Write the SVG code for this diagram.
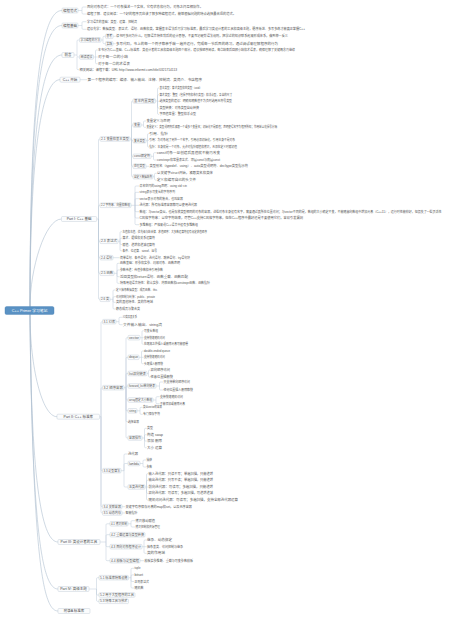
<svg xmlns="http://www.w3.org/2000/svg" width="454" height="619" viewBox="0 0 454 619">
<style>
text{font-family:"Liberation Sans","Noto Sans CJK SC",sans-serif;font-size:3px;fill:#555;dominant-baseline:central}
.l1 text{font-size:3.5px;text-anchor:middle;fill:#444}
.bx{fill:#fbfcfd;stroke:#b8c5d2;stroke-width:.4}
.c{fill:none;stroke:#bccad8;stroke-width:.5}
.m{fill:none;stroke:#aebfd0;stroke-width:.6}
#root text{font-size:3.8px;fill:#fff;text-anchor:middle}
</style>
<rect width="454" height="619" fill="#fff"/>
<g id="connectors">
<path class="m" d="M30 306.7C30 60.5 45 10.5 62 10.5M30 306.7C30 75.5 45 25.5 62 25.5M30 306.7C30 105 45 55 62 55M30 306.7C30 129.7 45 79.7 60 79.7M30 306.7C30 269 45 219 61.5 219M30 314.2C30 366.7 42 416.7 57 416.7M30 314.2C31 492 43 542 58 542M30 314.2C32 539 43 589 58 589M30 314.2C33 561 43 611 58 611"/>
<path class="c" d="M78 10.5H82V8Q82 7 83 7H86.5M82 10.5V13Q82 14 83 14H86.5
M78 25.5H82V22.7Q82 21.7 83 21.7H86.5M82 25.5V28.3Q82 29.3 83 29.3H86.5
M74 55H77V41Q77 40 78 40H79.5M77 55V56Q77 57 78 57H79.5M77 57V68.7Q77 69.7 78 69.7H79.2
M101 40H103V37.3Q103 36.3 104 36.3H105.5M103 40V42.7Q103 43.7 104 43.7H105.5
M113 36.3H115.7M113 43.7H115.7
M93.5 57H97.7M95.5 57V51Q95.5 50 96.5 50H97.7M95.5 57V62.7Q95.5 63.7 96.5 63.7H97.7
M80 79.7H87.2
M96.7 219H98.5V140Q98.5 139 99.5 139H100M98.5 219V206.3Q98.5 205.3 99.5 205.3H100M98.5 219V240.3Q98.5 241.3 99.5 241.3H100M98.5 219V256.7Q98.5 257.7 99.5 257.7H100M98.5 219V272.3Q98.5 273.3 99.5 273.3H100M98.5 219V298.3Q98.5 299.3 99.5 299.3H100
M130 139H131.5V102Q131.5 101 132.5 101H133M131.5 139V126Q131.5 125 132.5 125H133M131.5 139V139.7Q131.5 140.7 132.5 140.7H133M131.5 139V155.3Q131.5 156.3 132.5 156.3H133M131.5 139V165.3Q131.5 166.3 132.5 166.3H133M131.5 139V175.7Q131.5 176.7 132.5 176.7H133
M155.5 101H157.5V89Q157.5 88 158.5 88H159.2M157.5 101V95.7Q157.5 94.7 158.5 94.7H159.2M157.5 101.3H159.2M157.5 101V107Q157.5 108 158.5 108H159.2M157.5 101V113.3Q157.5 114.3 158.5 114.3H159.2
M141 125H143.5V122Q143.5 121 144.5 121H146.2M143.5 125V126.3Q143.5 127.3 144.5 127.3H146.2
M146 140.7H147.5V134.7Q147.5 133.7 148.5 133.7H149M147.5 140.3H149M147.5 140.7V146Q147.5 147 148.5 147H149
M151 156.3H153.5V153.7Q153.5 152.7 154.5 152.7H156.7M153.5 156.3V159Q153.5 160 154.5 160H156.7
M146 166.3H149.2
M153 176.7H154.5V174.3Q154.5 173.3 155.5 173.3H156.7M154.5 176.7V179Q154.5 180 155.5 180H156.7
M131 205.3H139.2M135 205.3V187Q135 186 136 186H139.2M135 205.3V193.3Q135 192.3 136 192.3H139.2M135 205.3V199.7Q135 198.7 136 198.7H139.2M135 205.3V210.7Q135 211.7 136 211.7H139.2M135 205.3V217Q135 218 136 218H139.2M135 205.3V223.7Q135 224.7 136 224.7H139.2
M118 241.3H120V232.7Q120 231.7 121 231.7H122.2M120 241.3V239.2Q120 238.2 121 238.2H122.2M120 241.3V243.5Q120 244.5 121 244.5H122.2M120 241.3V249.8Q120 250.8 121 250.8H122.2
M113 257.7H119.7
M114 273.3H117V264.3Q117 263.3 118 263.3H119.7M117 273.3V271Q117 270 118 270H119.7M117 273.3V275.7Q117 276.7 118 276.7H119.7M117 273.3V282.3Q117 283.3 118 283.3H119.7
M110 299.3H113V291Q113 290 114 290H115.7M113 299.3V297.7Q113 296.7 114 296.7H115.7M113 299.3V301.3Q113 302.3 114 302.3H115.7M113 299.3V308Q113 309 114 309H115.7
M99.5 416.7H101V322.7Q101 321.7 102 321.7H102.5M101 416.7V388.7Q101 387.7 102 387.7H102.5M101 416.7V469.7Q101 470.7 102 470.7H102.5M101 416.7V505.7Q101 506.7 102 506.7H102.5M101 416.7V512Q101 513 102 513H102.5
M116 321.7H119V318.3Q119 317.3 120 317.3H122.7M119 321.7V323.7Q119 324.7 120 324.7H122.7
M124 387.7H126V338.7Q126 337.7 127 337.7H128M126 387.7V358.3Q126 357.3 127 357.3H128M126 387.7V374.5Q126 373.5 127 373.5H128M126 387.7V387Q126 386 127 386H128M126 387.7V399Q126 400 127 400H128M126 387.7V409.8Q126 410.8 127 410.8H128M126 387.7V420.7Q126 421.7 127 421.7H128M126 387.7V437Q126 438 127 438H128
M140 337.7H143.7M142 337.7V331.7Q142 330.7 143 330.7H143.7M142 337.7V343.3Q142 344.3 143 344.3H143.7
M139 357.3H143.7M141.5 357.3V352Q141.5 351 142.5 351H143.7M141.5 357.3V362.7Q141.5 363.7 142.5 363.7H143.7
M147 373.5H148.5V371Q148.5 370 149.5 370H150.2M148.5 373.5V376Q148.5 377 149.5 377H150.2
M156 386H159.5V383Q159.5 382 160.5 382H163.2M159.5 386V389Q159.5 390 160.5 390H163.2
M153 400H156V397.7Q156 396.7 157 396.7H159.7M156 400V402.7Q156 403.7 157 403.7H159.7
M137 410.8H140V408.3Q140 407.3 141 407.3H142.7M140 410.8V413.3Q140 414.3 141 414.3H142.7
M142 438H144.5V429.3Q144.5 428.3 145.5 428.3H146.7M144.5 438V435.7Q144.5 434.7 145.5 434.7H146.7M144.5 438V440Q144.5 441 145.5 441H146.7M144.5 438V446.7Q144.5 447.7 145.5 447.7H146.7
M121 470.7H124V455Q124 454 125 454H127.7M124 470.7V464.5Q124 463.5 125 463.5H127.7M124 470.7V486Q124 487 125 487H127.7
M140 463.5H143V461Q143 460 144 460H146.2M143 463.5V466Q143 467 144 467H146.2
M145 487H148.2M146.5 487V474.7Q146.5 473.7 147.5 473.7H148.2M146.5 487V481.3Q146.5 480.3 147.5 480.3H148.2M146.5 487V492.3Q146.5 493.3 147.5 493.3H148.2M146.5 487V499Q146.5 500 147.5 500H148.2
M122 506.7H125.2M122 513H125.2
M100 542H106V524.8Q106 523.8 107 523.8H110M106 542V535.7Q106 534.7 107 534.7H110M106 542V545.7Q106 546.7 107 546.7H110M106 542V559.7Q106 560.7 107 560.7H110
M128 523.8H131V521.7Q131 520.7 132 520.7H135.2M131 523.8V526Q131 527 132 527H135.2
M142 546.7H146.7M144 546.7V541Q144 540 145 540H146.7M144 546.7V552.3Q144 553.3 145 553.3H146.7
M140 560.7H144.2
M89 589H96.5V578.7Q96.5 577.7 97.5 577.7H99M96.5 589V594Q96.5 595 97.5 595H99M96.5 589V600.3Q96.5 601.3 97.5 601.3H99
M128.5 577.7H131V569.3Q131 568.3 132 568.3H134.2M131 577.7V575.9Q131 574.9 132 574.9H134.2M131 577.7V580.5Q131 581.5 132 581.5H134.2M131 577.7V587Q131 588 132 588H134.2"/>
</g>
<g id="root"><rect x="5" y="306.6" width="49" height="7.8" rx="1.5" fill="#5a92c4" stroke="#4a80b2" stroke-width=".4"/><text x="29.5" y="310.5">C++ Primer 学习笔记</text></g>
<g id="n-fanshi" class="l1"><rect class="bx" x="62" y="8" width="16" height="5" rx="1"/><text x="70" y="10.5">编程范式</text></g>
<g id="n-jichu" class="l1"><rect class="bx" x="62" y="23" width="16" height="5" rx="1"/><text x="70" y="25.5">编程基础</text></g>
<g id="n-qianyan" class="l1"><rect class="bx" x="62" y="52.5" width="12" height="5" rx="1"/><text x="68" y="55">前言</text></g>
<g id="n-kaishi" class="l1"><rect class="bx" x="60" y="77.2" width="20" height="5" rx="1"/><text x="70" y="79.7">C++ 开始</text></g>
<g id="n-part1" class="l1"><rect class="bx" x="61.5" y="216.5" width="35.2" height="5" rx="1"/><text x="79.1" y="219">Part I: C++ 基础</text></g>
<g id="n-part2" class="l1"><rect class="bx" x="57" y="414.2" width="42.5" height="5" rx="1"/><text x="78.25" y="416.7">Part II: C++ 标准库</text></g>
<g id="n-part3" class="l1"><rect class="bx" x="58" y="539.5" width="42" height="5" rx="1"/><text x="79" y="542">Part III: 类设计者的工具</text></g>
<g id="n-part4" class="l1"><rect class="bx" x="58" y="586.5" width="31" height="5" rx="1"/><text x="73.5" y="589">Part IV: 高级主题</text></g>
<g id="n-appendix" class="l1"><rect class="bx" x="58" y="608.5" width="32" height="5" rx="1"/><text x="74" y="611">附录A 标准库</text></g>

<g id="n-f1"><text x="87" y="7" textLength="116" lengthAdjust="spacingAndGlyphs">面向对象范式：一个对象描述一个实体，它有状态和行为，对象之间互相协作。</text></g>
<g id="n-f2"><text x="87" y="14" textLength="149" lengthAdjust="spacingAndGlyphs">编程了解、建议阅读：一个好的程序员应该了解多种编程范式，能够根据问题的特点选择最合适的范式。</text></g>
<g id="n-j1"><text x="87" y="21.7" textLength="50" lengthAdjust="spacingAndGlyphs">学习语言的基础：类型、运算、控制流</text></g>
<g id="n-j2"><text x="87" y="29.3" textLength="218" lengthAdjust="spacingAndGlyphs">建议先学：数据类型、表达式、语句、函数和类，掌握基本语法后再学习标准库，最后学习类设计者的工具和高级主题，循序渐进、多写多练才能真正掌握C++</text></g>
<g id="n-method"><rect class="bx" x="79.5" y="37.7" width="21.5" height="4.6" rx="1"/><text x="80.5" y="40" textLength="19.5" lengthAdjust="spacingAndGlyphs">学习编程的方法</text></g>
<g id="n-think"><rect class="bx" x="105.5" y="34" width="7.5" height="4.6" rx="1"/><text x="106.5" y="36.3" textLength="5.5" lengthAdjust="spacingAndGlyphs">思考</text></g>
<g id="n-think1"><text x="116" y="36.3" textLength="172" lengthAdjust="spacingAndGlyphs">读书时多问为什么，理解语言特性背后的设计思想，不要死记硬背语法规则，把学过的知识联系起来形成体系，做到举一反三</text></g>
<g id="n-practice"><rect class="bx" x="105.5" y="41.4" width="7.5" height="4.6" rx="1"/><text x="106.5" y="43.7" textLength="5.5" lengthAdjust="spacingAndGlyphs">实践</text></g>
<g id="n-practice1"><text x="116" y="43.7" textLength="162" lengthAdjust="spacingAndGlyphs">多写代码，书上的每一个例子都亲手敲一遍并运行，完成每一节后面的练习，通过调试来理解程序的行为</text></g>
<g id="n-read"><rect class="bx" x="79.5" y="54.7" width="14" height="4.6" rx="1"/><text x="80.5" y="57" textLength="12" lengthAdjust="spacingAndGlyphs">阅读建议</text></g>
<g id="n-read1"><text x="98" y="50" textLength="197" lengthAdjust="spacingAndGlyphs">本书分为C++基础、C++标准库、类设计者的工具和高级主题四个部分，建议按顺序阅读，每章结束后回顾小结和术语表，确保理解了关键概念再继续</text></g>
<g id="n-read2"><text x="98" y="57" textLength="30" lengthAdjust="spacingAndGlyphs">对于每一章的小结</text></g>
<g id="n-read3"><text x="98" y="63.7" textLength="32" lengthAdjust="spacingAndGlyphs">对于每一章的术语表</text></g>
<g id="n-site"><text x="79.5" y="69.7" textLength="97.5" lengthAdjust="spacingAndGlyphs">相关网站：课程下载：URL  http://www.informit.com/title/0321714113</text></g>
<g id="n-k1"><text x="87.5" y="79.7" textLength="114.5" lengthAdjust="spacingAndGlyphs">第一个程序的编写：编译、输入输出、注释、控制流、类简介、书店程序</text></g>

<g id="n-21"><rect class="bx" x="100" y="136.7" width="30" height="4.6" rx="1"/><text x="101" y="139" textLength="28" lengthAdjust="spacingAndGlyphs">2.1 变量和基本类型</text></g>
<g id="n-builtin"><rect class="bx" x="133" y="98.7" width="22.5" height="4.6" rx="1"/><text x="134" y="101" textLength="20.5" lengthAdjust="spacingAndGlyphs">基本内置类型</text></g>
<g id="n-b1"><text x="159.5" y="88" textLength="42.5" lengthAdjust="spacingAndGlyphs">基本类型：算术类型和空类型（void）</text></g>
<g id="n-b2"><text x="159.5" y="94.7" textLength="72.5" lengthAdjust="spacingAndGlyphs">算术类型：整型（包括字符和布尔类型）和浮点型，各自的尺寸</text></g>
<g id="n-b3"><text x="159.5" y="101.3" textLength="72.5" lengthAdjust="spacingAndGlyphs">选择类型的建议：明确知晓数值不为负时选用无符号类型</text></g>
<g id="n-b4"><text x="159.5" y="108" textLength="39.5" lengthAdjust="spacingAndGlyphs">类型转换：对象类型自动转换</text></g>
<g id="n-b5"><text x="159.5" y="114.3" textLength="36.5" lengthAdjust="spacingAndGlyphs">字面值常量：整型和浮点型</text></g>
<g id="n-var"><rect class="bx" x="133" y="122.7" width="8" height="4.6" rx="1"/><text x="134" y="125" textLength="6" lengthAdjust="spacingAndGlyphs">变量</text></g>
<g id="n-v1"><text x="146.5" y="121" textLength="23.5" lengthAdjust="spacingAndGlyphs">变量定义与声明</text></g>
<g id="n-v2"><text x="146.5" y="127.3" textLength="130.5" lengthAdjust="spacingAndGlyphs">变量定义：类型说明符后紧跟一个或多个变量名；初始化不是赋值；声明使得名字为程序所知；作用域以花括号分隔</text></g>
<g id="n-compound"><rect class="bx" x="133" y="138.4" width="13" height="4.6" rx="1"/><text x="134" y="140.7" textLength="11" lengthAdjust="spacingAndGlyphs">复合类型</text></g>
<g id="n-c1"><text x="149.3" y="133.7" textLength="18.7" lengthAdjust="spacingAndGlyphs">引用、指针</text></g>
<g id="n-c2"><text x="149.3" y="140.3" textLength="85.7" lengthAdjust="spacingAndGlyphs">引用：为对象起了另外一个名字，引用必须初始化，引用本身不是对象</text></g>
<g id="n-c3"><text x="149.3" y="147" textLength="87.7" lengthAdjust="spacingAndGlyphs">指针：本身就是一个对象，允许对指针赋值和拷贝，无须在定义时赋初值</text></g>
<g id="n-const"><rect class="bx" x="133" y="154" width="18" height="4.6" rx="1"/><text x="134" y="156.3" textLength="16" lengthAdjust="spacingAndGlyphs">const限定符</text></g>
<g id="n-k1c"><text x="157" y="152.7" textLength="63" lengthAdjust="spacingAndGlyphs">const对象一旦创建后其值就不能再改变</text></g>
<g id="n-k2c"><text x="157" y="160" textLength="63" lengthAdjust="spacingAndGlyphs">constexpr和常量表达式、顶层const与底层const</text></g>
<g id="n-handle"><rect class="bx" x="133" y="164" width="13" height="4.6" rx="1"/><text x="134" y="166.3" textLength="11" lengthAdjust="spacingAndGlyphs">处理类型</text></g>
<g id="n-h1"><text x="149.5" y="166.3" textLength="98.5" lengthAdjust="spacingAndGlyphs">类型别名（typedef、using）、auto类型说明符、decltype类型指示符</text></g>
<g id="n-struct"><rect class="bx" x="133" y="174.4" width="20" height="4.6" rx="1"/><text x="134" y="176.7" textLength="18" lengthAdjust="spacingAndGlyphs">自定义数据结构</text></g>
<g id="n-s1"><text x="157" y="173.3" textLength="56" lengthAdjust="spacingAndGlyphs">以关键字struct开始，紧跟类名和类体</text></g>
<g id="n-s2"><text x="157" y="180" textLength="39" lengthAdjust="spacingAndGlyphs">定义和编写自己的头文件</text></g>

<g id="n-22"><rect class="bx" x="100" y="203" width="31" height="4.6" rx="1"/><text x="101" y="205.3" textLength="29" lengthAdjust="spacingAndGlyphs">2.2 字符串、向量和数组</text></g>
<g id="n-a1"><text x="139.5" y="186" textLength="47.5" lengthAdjust="spacingAndGlyphs">命名空间的using声明：using std::cin</text></g>
<g id="n-a2"><text x="139.5" y="192.3" textLength="35.5" lengthAdjust="spacingAndGlyphs">string表示可变长的字符序列</text></g>
<g id="n-a3"><text x="139.5" y="198.7" textLength="43.5" lengthAdjust="spacingAndGlyphs">vector表示对象的集合，也叫容器</text></g>
<g id="n-a4"><text x="139.5" y="205.3" textLength="57.5" lengthAdjust="spacingAndGlyphs">迭代器：所有标准库容器都可以使用迭代器</text></g>
<g id="n-a5"><text x="139.5" y="211.7" textLength="302" lengthAdjust="spacingAndGlyphs">数组：与vector类似，也是存放类型相同的对象的容器，这些对象本身没有名字，需要通过其所在位置访问；与vector不同的是，数组的大小确定不变，不能随意向数组中增加元素（C++11），运行时性能较好，但损失了一些灵活性</text></g>
<g id="n-a6"><text x="139.5" y="218" textLength="163.5" lengthAdjust="spacingAndGlyphs">C风格字符串：以空字符结束，尽管C++支持C风格字符串，但在C++程序中最好还是不要使用它们，容易引发漏洞</text></g>
<g id="n-a7"><text x="139.5" y="224.7" textLength="58.5" lengthAdjust="spacingAndGlyphs">多维数组：严格来说C++语言中没有多维数组</text></g>

<g id="n-23"><rect class="bx" x="100" y="239" width="18" height="4.6" rx="1"/><text x="101" y="241.3" textLength="16" lengthAdjust="spacingAndGlyphs">2.3 表达式</text></g>
<g id="n-e1"><text x="122.5" y="231.7" textLength="84.5" lengthAdjust="spacingAndGlyphs">左值和右值、优先级与结合律、求值顺序：大多数运算符没有规定求值顺序</text></g>
<g id="n-e2"><text x="122.5" y="238.2" textLength="32.5" lengthAdjust="spacingAndGlyphs">算术、逻辑和关系运算符</text></g>
<g id="n-e3"><text x="122.5" y="244.5" textLength="32.5" lengthAdjust="spacingAndGlyphs">赋值、递增和递减运算符</text></g>
<g id="n-e4"><text x="122.5" y="250.8" textLength="34.5" lengthAdjust="spacingAndGlyphs">条件、位运算、sizeof、逗号</text></g>
<g id="n-24"><rect class="bx" x="100" y="255.4" width="13" height="4.6" rx="1"/><text x="101" y="257.7" textLength="11" lengthAdjust="spacingAndGlyphs">2.4 语句</text></g>
<g id="n-st1"><text x="120" y="257.7" textLength="70" lengthAdjust="spacingAndGlyphs">简单语句、条件语句、迭代语句、跳转语句、try语句块</text></g>
<g id="n-25"><rect class="bx" x="100" y="271" width="14" height="4.6" rx="1"/><text x="101" y="273.3" textLength="12" lengthAdjust="spacingAndGlyphs">2.5 函数</text></g>
<g id="n-fn1"><text x="120" y="263.3" textLength="60" lengthAdjust="spacingAndGlyphs">函数基础：形参和实参、局部对象、函数声明</text></g>
<g id="n-fn2"><text x="120" y="270" textLength="43" lengthAdjust="spacingAndGlyphs">参数传递：传值参数和传引用参数</text></g>
<g id="n-fn3"><text x="120" y="276.7" textLength="68" lengthAdjust="spacingAndGlyphs">返回类型和return语句、函数重载、函数匹配</text></g>
<g id="n-fn4"><text x="120" y="283.3" textLength="90" lengthAdjust="spacingAndGlyphs">特殊用途语言特性：默认实参、内联函数和constexpr函数、函数指针</text></g>
<g id="n-26"><rect class="bx" x="100" y="297" width="10" height="4.6" rx="1"/><text x="101" y="299.3" textLength="8" lengthAdjust="spacingAndGlyphs">2.6 类</text></g>
<g id="n-cl1"><text x="116" y="290" textLength="41" lengthAdjust="spacingAndGlyphs">定义抽象数据类型：成员函数、this</text></g>
<g id="n-cl2"><text x="116" y="296.7" textLength="39" lengthAdjust="spacingAndGlyphs">访问控制与封装：public、private</text></g>
<g id="n-cl3"><text x="116" y="302.3" textLength="37" lengthAdjust="spacingAndGlyphs">类的其他特性、类的作用域</text></g>
<g id="n-cl4"><text x="116" y="309" textLength="24" lengthAdjust="spacingAndGlyphs">静态成员与聚合类</text></g>

<g id="n-31"><rect class="bx" x="102.5" y="319.4" width="13.5" height="4.6" rx="1"/><text x="103.5" y="321.7" textLength="11.5" lengthAdjust="spacingAndGlyphs">3.1 IO库</text></g>
<g id="n-io1"><text x="123" y="317.3" textLength="14" lengthAdjust="spacingAndGlyphs">IO类及其关系</text></g>
<g id="n-io2"><text x="123" y="324.7" textLength="39" lengthAdjust="spacingAndGlyphs">文件输入输出、string流</text></g>
<g id="n-32"><rect class="bx" x="102.5" y="385.4" width="21.5" height="4.6" rx="1"/><text x="103.5" y="387.7" textLength="19.5" lengthAdjust="spacingAndGlyphs">3.2 顺序容器</text></g>
<g id="n-vector"><rect class="bx" x="128" y="335.4" width="12" height="4.6" rx="1"/><text x="129" y="337.7" textLength="10" lengthAdjust="spacingAndGlyphs">vector</text></g>
<g id="n-ve1"><text x="144" y="330.7" textLength="14" lengthAdjust="spacingAndGlyphs">可变长数组</text></g>
<g id="n-ve2"><text x="144" y="337.7" textLength="21" lengthAdjust="spacingAndGlyphs">支持快速随机访问</text></g>
<g id="n-ve3"><text x="144" y="344.3" textLength="44" lengthAdjust="spacingAndGlyphs">在尾部之外插入或删除元素可能很慢</text></g>
<g id="n-deque"><rect class="bx" x="128" y="355" width="11" height="4.6" rx="1"/><text x="129" y="357.3" textLength="9" lengthAdjust="spacingAndGlyphs">deque</text></g>
<g id="n-de1"><text x="144" y="351" textLength="26" lengthAdjust="spacingAndGlyphs">double-ended queue</text></g>
<g id="n-de2"><text x="144" y="357.3" textLength="21" lengthAdjust="spacingAndGlyphs">支持快速随机访问</text></g>
<g id="n-de3"><text x="144" y="363.7" textLength="19" lengthAdjust="spacingAndGlyphs">头尾插入删除快</text></g>
<g id="n-list"><rect class="bx" x="128" y="371.2" width="19" height="4.6" rx="1"/><text x="129" y="373.5" textLength="17" lengthAdjust="spacingAndGlyphs">list双向链表</text></g>
<g id="n-li1"><text x="150.5" y="370" textLength="19.5" lengthAdjust="spacingAndGlyphs">双向顺序访问</text></g>
<g id="n-li2"><text x="150.5" y="377" textLength="22.5" lengthAdjust="spacingAndGlyphs">任意位置插删快</text></g>
<g id="n-flist"><rect class="bx" x="128" y="383.7" width="28" height="4.6" rx="1"/><text x="129" y="386" textLength="26" lengthAdjust="spacingAndGlyphs">forward_list单向链表</text></g>
<g id="n-fl1"><text x="163.5" y="382" textLength="26.5" lengthAdjust="spacingAndGlyphs">只支持单向顺序访问</text></g>
<g id="n-fl2"><text x="163.5" y="390" textLength="29.5" lengthAdjust="spacingAndGlyphs">任何位置插入删除都快</text></g>
<g id="n-array"><rect class="bx" x="128" y="397.7" width="25" height="4.6" rx="1"/><text x="129" y="400" textLength="23" lengthAdjust="spacingAndGlyphs">array固定大小数组</text></g>
<g id="n-ar1"><text x="160" y="396.7" textLength="23" lengthAdjust="spacingAndGlyphs">支持快速随机访问</text></g>
<g id="n-ar2"><text x="160" y="403.7" textLength="25" lengthAdjust="spacingAndGlyphs">不能添加或删除元素</text></g>
<g id="n-string"><rect class="bx" x="128" y="408.5" width="9" height="4.6" rx="1"/><text x="129" y="410.8" textLength="7" lengthAdjust="spacingAndGlyphs">string</text></g>
<g id="n-sr1"><text x="143" y="407.3" textLength="19" lengthAdjust="spacingAndGlyphs">类似vector的容器</text></g>
<g id="n-sr2"><text x="143" y="414.3" textLength="17" lengthAdjust="spacingAndGlyphs">专门保存字符</text></g>
<g id="n-choose"><text x="128" y="421.7" textLength="11" lengthAdjust="spacingAndGlyphs">选择容器</text></g>
<g id="n-ops"><rect class="bx" x="128" y="435.7" width="14" height="4.6" rx="1"/><text x="129" y="438" textLength="12" lengthAdjust="spacingAndGlyphs">容器操作</text></g>
<g id="n-op1"><text x="147" y="428.3" textLength="6" lengthAdjust="spacingAndGlyphs">类型</text></g>
<g id="n-op2"><text x="147" y="434.7" textLength="16" lengthAdjust="spacingAndGlyphs">构造  swap</text></g>
<g id="n-op3"><text x="147" y="441" textLength="15" lengthAdjust="spacingAndGlyphs">添加  删除</text></g>
<g id="n-op4"><text x="147" y="447.7" textLength="15" lengthAdjust="spacingAndGlyphs">大小  运算</text></g>
<g id="n-33"><rect class="bx" x="102.5" y="468.4" width="18.5" height="4.6" rx="1"/><text x="103.5" y="470.7" textLength="16.5" lengthAdjust="spacingAndGlyphs">3.3 泛型算法</text></g>
<g id="n-iter"><text x="128" y="454" textLength="10" lengthAdjust="spacingAndGlyphs">迭代器</text></g>
<g id="n-lambda"><rect class="bx" x="128" y="461.2" width="12" height="4.6" rx="1"/><text x="129" y="463.5" textLength="10" lengthAdjust="spacingAndGlyphs">lambda</text></g>
<g id="n-la1"><text x="146.5" y="460" textLength="5.5" lengthAdjust="spacingAndGlyphs">捕获</text></g>
<g id="n-la2"><text x="146.5" y="467" textLength="5.5" lengthAdjust="spacingAndGlyphs">参数</text></g>
<g id="n-itk"><rect class="bx" x="128" y="484.7" width="17" height="4.6" rx="1"/><text x="129" y="487" textLength="15" lengthAdjust="spacingAndGlyphs">五类迭代器</text></g>
<g id="n-it1"><text x="148.5" y="473.7" textLength="64.5" lengthAdjust="spacingAndGlyphs">输入迭代器：只读不写；单遍扫描，只能递增</text></g>
<g id="n-it2"><text x="148.5" y="480.3" textLength="64.5" lengthAdjust="spacingAndGlyphs">输出迭代器：只写不读；单遍扫描，只能递增</text></g>
<g id="n-it3"><text x="148.5" y="486.8" textLength="64.5" lengthAdjust="spacingAndGlyphs">前向迭代器：可读写；多遍扫描，只能递增</text></g>
<g id="n-it4"><text x="148.5" y="493.3" textLength="64.5" lengthAdjust="spacingAndGlyphs">双向迭代器：可读写；多遍扫描，可递增递减</text></g>
<g id="n-it5"><text x="148.5" y="500" textLength="89.5" lengthAdjust="spacingAndGlyphs">随机访问迭代器：可读写；多遍扫描，支持全部迭代器运算</text></g>
<g id="n-34"><rect class="bx" x="102.5" y="504.4" width="19.5" height="4.6" rx="1"/><text x="103.5" y="506.7" textLength="17.5" lengthAdjust="spacingAndGlyphs">3.4 关联容器</text></g>
<g id="n-as1"><text x="125.5" y="506.7" textLength="66.5" lengthAdjust="spacingAndGlyphs">关键字有序保存元素的map和set，以及无序容器</text></g>
<g id="n-35"><rect class="bx" x="102.5" y="510.7" width="19.5" height="4.6" rx="1"/><text x="103.5" y="513" textLength="17.5" lengthAdjust="spacingAndGlyphs">3.5 动态内存</text></g>
<g id="n-dm1"><text x="125.5" y="513" textLength="12" lengthAdjust="spacingAndGlyphs">智能指针</text></g>

<g id="n-41"><rect class="bx" x="110" y="521.5" width="18" height="4.6" rx="1"/><text x="111" y="523.8" textLength="16" lengthAdjust="spacingAndGlyphs">4.1 拷贝控制</text></g>
<g id="n-cp1"><text x="135.5" y="520.7" textLength="19.5" lengthAdjust="spacingAndGlyphs">拷贝移动赋值</text></g>
<g id="n-cp2"><text x="135.5" y="527" textLength="24.5" lengthAdjust="spacingAndGlyphs">拷贝控制和资源管理</text></g>
<g id="n-42"><rect class="bx" x="110" y="532.4" width="35" height="4.6" rx="1"/><text x="111" y="534.7" textLength="33" lengthAdjust="spacingAndGlyphs">4.2 重载运算与类型转换</text></g>
<g id="n-43"><rect class="bx" x="110" y="544.4" width="32" height="4.6" rx="1"/><text x="111" y="546.7" textLength="30" lengthAdjust="spacingAndGlyphs">4.3 面向对象程序设计</text></g>
<g id="n-oo1"><text x="147" y="540" textLength="25" lengthAdjust="spacingAndGlyphs">继承、动态绑定</text></g>
<g id="n-oo2"><text x="147" y="546.7" textLength="36" lengthAdjust="spacingAndGlyphs">抽象基类、访问控制与继承</text></g>
<g id="n-oo3"><text x="147" y="553.3" textLength="18" lengthAdjust="spacingAndGlyphs">类的作用域</text></g>
<g id="n-44"><rect class="bx" x="110" y="558.4" width="30" height="4.6" rx="1"/><text x="111" y="560.7" textLength="28" lengthAdjust="spacingAndGlyphs">4.4 模板与泛型编程</text></g>
<g id="n-tp1"><text x="144.5" y="560.7" textLength="48.5" lengthAdjust="spacingAndGlyphs">模板实参推断、重载与可变参数模板</text></g>

<g id="n-51"><rect class="bx" x="99" y="575.4" width="29.5" height="4.6" rx="1"/><text x="100" y="577.7" textLength="27.5" lengthAdjust="spacingAndGlyphs">5.1 标准库特殊设施</text></g>
<g id="n-sp1"><text x="134.5" y="568.3" textLength="6" lengthAdjust="spacingAndGlyphs">tuple</text></g>
<g id="n-sp2"><text x="134.5" y="574.9" textLength="8.5" lengthAdjust="spacingAndGlyphs">bitset</text></g>
<g id="n-sp3"><text x="134.5" y="581.5" textLength="14.5" lengthAdjust="spacingAndGlyphs">正则表达式</text></g>
<g id="n-sp4"><text x="134.5" y="588" textLength="9" lengthAdjust="spacingAndGlyphs">随机数</text></g>
<g id="n-52"><rect class="bx" x="99" y="592.7" width="36" height="4.6" rx="1"/><text x="100" y="595" textLength="34" lengthAdjust="spacingAndGlyphs">5.2 用于大型程序的工具</text></g>
<g id="n-53"><rect class="bx" x="99" y="599" width="29.5" height="4.6" rx="1"/><text x="100" y="601.3" textLength="27.5" lengthAdjust="spacingAndGlyphs">5.3 特殊工具与技术</text></g>
</svg>
